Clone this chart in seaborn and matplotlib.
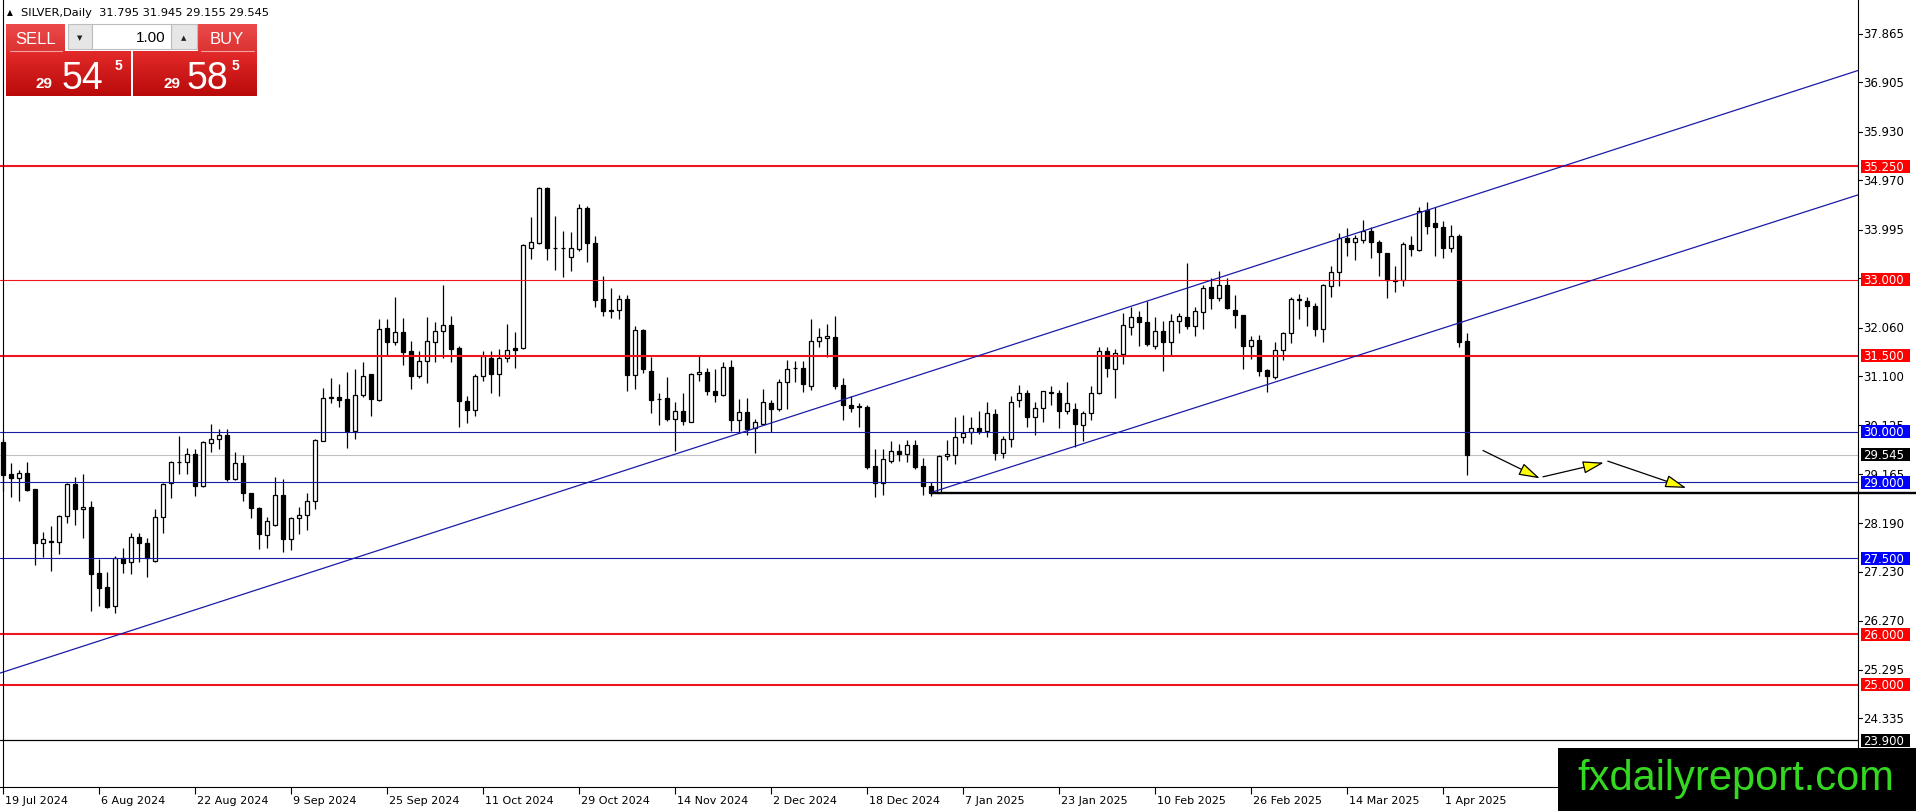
import numpy as np
import pandas as pd
import matplotlib
matplotlib.use("Agg")
import matplotlib.pyplot as plt
import matplotlib.transforms as mtransforms
from matplotlib.patches import Rectangle
from matplotlib.colors import LinearSegmentedColormap
import seaborn as sns

# ---------------- data ----------------
symbol = "SILVER"
timeframe = "Daily"
date_labels = ["19 Jul 2024", "6 Aug 2024", "22 Aug 2024", "9 Sep 2024", "25 Sep 2024",
               "11 Oct 2024", "29 Oct 2024", "14 Nov 2024", "2 Dec 2024", "18 Dec 2024",
               "7 Jan 2025", "23 Jan 2025", "10 Feb 2025", "26 Feb 2025", "14 Mar 2025",
               "1 Apr 2025"]
date_label_bars = [0, 12, 24, 36, 48, 60, 72, 84, 96, 108, 120, 132, 144, 156, 168, 180]

opens = [29.80, 29.17, 29.08, 29.19, 28.86, 27.80, 27.84, 27.82, 28.33, 28.96,
         28.47, 28.51, 27.21, 26.93, 26.55, 27.50, 27.42, 27.92, 27.80, 27.45,
         28.32, 28.99, 29.40, 29.40, 29.56, 28.93, 29.78, 29.86, 29.94, 29.07,
         29.38, 28.79, 28.50, 27.97, 28.16, 28.76, 27.88, 28.30, 28.35, 28.63,
         29.81, 30.67, 30.69, 30.65, 30.02, 30.73, 31.14, 30.63, 32.05, 31.77,
         31.98, 31.60, 31.11, 31.39, 31.77, 31.99, 32.12, 31.66, 30.61, 30.44,
         31.11, 31.46, 31.15, 31.46, 31.66, 31.65, 33.63, 33.73, 34.82, 33.64,
         33.63, 33.46, 33.61, 34.42, 33.73, 32.62, 32.40, 32.40, 32.62, 31.13,
         32.01, 31.20, 30.65, 30.66, 30.25, 30.41, 30.19, 31.14, 31.18, 30.81,
         30.73, 31.28, 30.24, 30.39, 30.08, 30.15, 30.57, 30.45, 30.98, 31.26,
         31.27, 30.90, 31.79, 31.85, 31.87, 30.92, 30.53, 30.50, 30.48, 29.32,
         28.99, 29.43, 29.63, 29.57, 29.73, 29.32, 28.93, 28.79, 29.52, 29.55,
         29.89, 30.00, 30.07, 30.02, 30.35, 29.58, 29.86, 30.63, 30.76, 30.29,
         30.47, 30.77, 30.76, 30.41, 30.45, 30.14, 30.37, 30.76, 31.59, 31.24,
         31.54, 32.08, 32.26, 32.16, 31.69, 31.99, 31.77, 32.18, 32.26, 32.10,
         32.36, 32.86, 32.64, 32.90, 32.41, 32.31, 31.70, 31.81, 31.22, 31.08,
         31.62, 31.95, 32.62, 32.59, 32.48, 32.03, 32.89, 33.16, 33.82, 33.75,
         33.80, 33.96, 33.76, 33.53, 32.99, 32.99, 33.69, 33.60, 34.39, 34.13,
         34.04, 33.63, 33.86, 31.795]
highs = [29.86, 29.38, 29.25, 29.41, 28.87, 28.01, 28.14, 28.36, 28.99, 29.10,
         29.17, 28.63, 27.49, 27.23, 27.55, 27.70, 27.99, 27.99, 27.90, 28.47,
         28.99, 29.42, 29.92, 29.68, 29.66, 29.82, 30.16, 30.06, 30.06, 29.61,
         29.54, 28.80, 28.52, 28.32, 29.11, 29.06, 28.31, 28.51, 28.80, 29.85,
         30.87, 31.06, 30.95, 31.18, 31.24, 31.37, 31.15, 32.23, 32.23, 32.66,
         32.24, 31.79, 31.60, 32.26, 32.16, 32.90, 32.29, 31.70, 30.71, 31.14,
         31.60, 31.60, 31.64, 32.13, 31.97, 33.71, 34.24, 34.83, 34.83, 34.27,
         33.97, 33.95, 34.50, 34.47, 33.86, 33.08, 32.84, 32.71, 32.70, 32.10,
         32.03, 31.48, 30.77, 31.08, 30.59, 30.76, 31.16, 31.49, 31.27, 31.25,
         31.37, 31.42, 30.65, 30.66, 30.25, 30.85, 30.63, 31.04, 31.41, 31.39,
         31.39, 32.23, 32.05, 32.13, 32.29, 31.06, 30.71, 30.57, 30.52, 29.66,
         29.65, 29.82, 29.76, 29.84, 29.84, 29.48, 29.01, 29.55, 29.84, 30.29,
         30.33, 30.29, 30.42, 30.59, 30.45, 29.92, 30.70, 30.93, 30.83, 30.58,
         30.81, 30.91, 30.83, 30.98, 30.56, 30.42, 30.91, 31.67, 31.67, 31.64,
         32.34, 32.47, 32.38, 32.59, 32.26, 32.18, 32.33, 32.34, 33.33, 32.46,
         32.91, 33.04, 33.17, 33.03, 32.70, 32.31, 31.90, 31.91, 31.24, 31.78,
         31.98, 32.66, 32.72, 32.66, 32.55, 32.92, 33.27, 33.92, 34.02, 33.89,
         34.19, 34.04, 33.80, 33.53, 33.27, 33.75, 33.86, 34.44, 34.55, 34.44,
         34.16, 34.09, 33.91, 31.945]
lows = [28.83, 28.71, 28.63, 28.83, 27.37, 27.53, 27.25, 27.59, 28.20, 28.16,
        27.90, 26.45, 26.55, 26.52, 26.42, 27.20, 27.18, 27.42, 27.14, 27.42,
        27.99, 28.69, 29.16, 29.17, 28.74, 28.90, 29.61, 29.66, 29.03, 29.05,
        28.63, 28.30, 27.68, 27.71, 28.13, 27.63, 27.66, 27.98, 28.05, 28.47,
        29.81, 30.56, 30.48, 29.67, 29.86, 30.68, 30.32, 30.60, 31.50, 31.72,
        31.32, 30.84, 31.06, 30.96, 31.37, 31.46, 31.37, 30.09, 30.17, 30.32,
        31.01, 30.76, 30.71, 31.37, 31.27, 31.64, 33.42, 33.72, 33.40, 33.20,
        33.05, 33.18, 33.58, 33.36, 32.46, 32.29, 32.25, 32.22, 30.80, 30.85,
        31.16, 30.38, 30.14, 30.22, 29.63, 30.14, 30.19, 31.00, 30.73, 30.59,
        30.71, 30.02, 29.98, 29.94, 29.59, 30.15, 29.99, 30.42, 30.45, 30.98,
        30.79, 30.83, 31.67, 31.47, 30.85, 30.24, 30.39, 30.10, 29.26, 28.71,
        28.76, 29.38, 29.43, 29.40, 29.26, 28.76, 28.74, 28.79, 29.45, 29.36,
        29.78, 29.76, 29.96, 29.90, 29.45, 29.48, 29.69, 30.48, 30.09, 29.94,
        30.19, 30.52, 30.07, 30.35, 29.69, 29.82, 30.24, 30.75, 31.09, 30.66,
        31.33, 31.92, 31.70, 31.70, 31.64, 31.21, 31.52, 31.96, 32.03, 31.89,
        32.03, 32.43, 32.59, 32.43, 32.05, 31.24, 31.44, 31.11, 30.78, 31.04,
        31.42, 31.75, 32.23, 32.10, 31.90, 31.77, 32.66, 32.89, 33.48, 33.40,
        33.73, 33.43, 33.07, 32.64, 32.76, 32.89, 33.47, 33.57, 33.91, 33.47,
        33.43, 33.56, 31.67, 29.155]
closes = [29.15, 29.08, 29.19, 28.84, 27.80, 27.88, 27.82, 28.34, 28.96, 28.47,
          28.51, 27.18, 26.92, 26.54, 27.50, 27.40, 27.92, 27.80, 27.51, 28.32,
          28.96, 29.40, 29.41, 29.56, 28.93, 29.80, 29.86, 29.94, 29.07, 29.38,
          28.79, 28.50, 27.98, 28.23, 28.76, 27.88, 28.30, 28.35, 28.63, 29.83,
          30.66, 30.68, 30.63, 30.02, 30.73, 31.11, 30.65, 32.04, 31.77, 31.98,
          31.58, 31.11, 31.39, 31.79, 31.99, 32.12, 31.64, 30.61, 30.44, 31.11,
          31.49, 31.15, 31.46, 31.62, 31.62, 33.70, 33.75, 34.82, 33.63, 33.63,
          33.64, 33.63, 34.42, 33.73, 32.61, 32.39, 32.39, 32.62, 31.13, 32.01,
          31.25, 30.63, 30.64, 30.25, 30.41, 30.21, 31.14, 31.18, 30.81, 30.73,
          31.29, 30.24, 30.39, 30.06, 30.19, 30.58, 30.45, 30.98, 31.25, 31.27,
          30.94, 31.79, 31.87, 31.89, 30.91, 30.52, 30.47, 30.49, 29.31, 28.99,
          29.46, 29.63, 29.56, 29.73, 29.31, 28.92, 28.79, 29.52, 29.56, 29.89,
          29.97, 30.07, 30.02, 30.37, 29.58, 29.86, 30.59, 30.76, 30.29, 30.47,
          30.80, 30.78, 30.41, 30.56, 30.15, 30.37, 30.76, 31.59, 31.27, 31.55,
          32.11, 32.26, 32.16, 31.74, 31.99, 31.77, 32.18, 32.28, 32.10, 32.38,
          32.84, 32.64, 32.90, 32.44, 32.31, 31.70, 31.81, 31.21, 31.10, 31.62,
          31.95, 32.62, 32.61, 32.49, 32.03, 32.90, 33.16, 33.82, 33.76, 33.82,
          33.96, 33.75, 33.55, 32.99, 32.98, 33.71, 33.61, 34.36, 34.07, 34.04,
          33.63, 33.86, 31.78, 29.545]

red_levels_thick = [35.25, 31.50, 26.00, 25.00]
red_levels_thin = [33.00]
blue_levels = [30.00, 29.00, 27.50]
bid_price = 29.545
ask_price = 29.585
lowest_line = 23.900
support_level = 28.80
support_start_bar = 116
upper_trend_bars = [0, 180]
upper_trend_prices = [25.25, 34.48]
lower_trend_bars = [116, 182]
lower_trend_prices = [28.80, 32.15]
arrow_path_bars = [185.0, 192.1, 192.5, 200.1, 200.6, 210.4]
arrow_path_prices = [29.63, 29.08, 29.11, 29.39, 29.42, 28.89]
price_ticks = [37.865, 36.905, 35.930, 34.970, 33.995, 33.035, 32.060, 31.100,
               30.125, 29.165, 28.190, 27.230, 26.270, 25.295, 24.335]
lot_size = 1.00
watermark = "fxdailyreport.com"

# ---------------- style ----------------
sns.set_theme(style="white")
plt.rcParams['font.family'] = ['DejaVu Sans']

W, H = 1916, 812
AX_R, AX_B = 1858, 788
fig = plt.figure(figsize=(W / 100, H / 100), dpi=100, facecolor='white')
ax = fig.add_axes([0, (H - AX_B) / H, AX_R / W, AX_B / H])
ax.set_facecolor('white')
XMIN, XMAX = -0.375, 231.875
YMIN, YMAX = 22.98, 38.553
PPU = AX_B / (YMAX - YMIN)   # pixels per price unit

RED = '#f0141c'
BLUE_LINE = '#1a1aa8'

o = np.array(opens); h = np.array(highs); l = np.array(lows); c = np.array(closes)
x = np.arange(len(o))
up = c >= o

# wicks and bodies
ax.vlines(x, l, h, color='black', lw=0.9, zorder=2)
ax.bar(x, np.abs(c - o), bottom=np.minimum(o, c), width=0.56,
       color=np.where(up, 'white', 'black'), edgecolor='black', linewidth=0.9, zorder=2.2)

# level lines
ax.axhline(bid_price, color='#c0c0c0', lw=0.8, zorder=1.5)
for lv in red_levels_thick:
    ax.axhline(lv, color=RED, lw=1.5, zorder=3)
for lv in red_levels_thin:
    ax.axhline(lv, color=RED, lw=0.8, zorder=3)
for lv in blue_levels:
    ax.axhline(lv, color=BLUE_LINE, lw=0.8, zorder=3)
ax.axhline(lowest_line, color='black', lw=0.9, zorder=3)

# channel rays
def ray(bars, prices, start):
    slope = (prices[1] - prices[0]) / (bars[1] - bars[0])
    xs = [start, XMAX]
    ys = [prices[0] + slope * (xx - bars[0]) for xx in xs]
    return pd.DataFrame({'bar': xs, 'price': ys})

up_df = ray(upper_trend_bars, upper_trend_prices, XMIN)
lo_df = ray(lower_trend_bars, lower_trend_prices, lower_trend_bars[0])
sns.lineplot(data=up_df, x='bar', y='price', ax=ax, color=BLUE_LINE, lw=0.9,
             estimator=None, sort=False, legend=False, zorder=3)
sns.lineplot(data=lo_df, x='bar', y='price', ax=ax, color=BLUE_LINE, lw=0.9,
             estimator=None, sort=False, legend=False, zorder=3)

# support line (extends to the image edge)
ax.plot([support_start_bar, (W - 3) / 8], [support_level, support_level],
        color='black', lw=1.7, zorder=3.5, clip_on=False, solid_capstyle='butt')

# arrows
for k in range(0, len(arrow_path_bars), 2):
    ax.annotate('', xy=(arrow_path_bars[k + 1], arrow_path_prices[k + 1]),
                xytext=(arrow_path_bars[k], arrow_path_prices[k]),
                arrowprops=dict(arrowstyle='-|>,head_length=1.0,head_width=0.3',
                                fc='#ffff00', ec='black', lw=0.9,
                                shrinkA=0, shrinkB=0, mutation_scale=13),
                zorder=4)

# left border
ax.axvline(-0.04, color='black', lw=0.8, zorder=4)

ax.set_xlim(XMIN, XMAX)
ax.set_ylim(YMIN, YMAX)
ax.grid(False)
for s in ['left', 'top']:
    ax.spines[s].set_visible(False)
for s in ['right', 'bottom']:
    ax.spines[s].set_color('black')
    ax.spines[s].set_linewidth(0.8)
ax.set_yticks([])
ax.set_xticks(date_label_bars)
ax.tick_params(axis='x', direction='out', length=5, width=0.8, color='black',
               bottom=True, labelbottom=False)
ax.set_xlabel('')
ax.set_ylabel('')

# date labels
tx = mtransforms.blended_transform_factory(ax.transData, ax.transAxes)
for b, lab in zip(date_label_bars, date_labels):
    ax.text(b + 0.25, -13 / AX_B, lab, transform=tx, fontsize=8, ha='left',
            va='center', color='black', clip_on=False)

# right price scale
ty = mtransforms.blended_transform_factory(ax.transAxes, ax.transData)
def xr(px):
    return 1 + px / AX_R

for p in price_ticks:
    ax.plot([1, xr(4)], [p, p], transform=ty, color='black', lw=0.8, clip_on=False)
    ax.text(xr(5), p, f"{p:.3f}", transform=ty, fontsize=8.5, ha='left', va='center',
            color='black', clip_on=False, zorder=9)

boxed = ([(v, '#ff0000') for v in red_levels_thick + red_levels_thin] +
         [(v, '#0000ff') for v in blue_levels] +
         [(bid_price, '#000000'), (lowest_line, '#000000')])
for p, col in boxed:
    ax.add_patch(Rectangle((xr(3), p - 6.5 / PPU), 49 / AX_R, 13 / PPU, transform=ty,
                           fc=col, ec='none', clip_on=False, zorder=10))
    ax.text(xr(5), p, f"{p:.3f}", transform=ty, fontsize=8.5, ha='left', va='center',
            color='white', clip_on=False, zorder=11)

# ---------------- overlay (header panel, watermark) ----------------
ov = fig.add_axes([0, 0, 1, 1], zorder=20)
ov.set_facecolor('none')
ov.axis('off')

def grad(x0, x1, y0, y1, ctop, cbot):
    cmap = LinearSegmentedColormap.from_list('g', [ctop, cbot])
    arr = np.linspace(0, 1, 64).reshape(-1, 1)
    ov.imshow(arr, cmap=cmap, extent=[x0, x1, y1, y0], aspect='auto',
              interpolation='bilinear', zorder=1)

ov.text(7, 13, "▲", fontsize=5.5, ha='left', va='center', color='black')
ov.text(21, 13, f"{symbol},{timeframe}  {o[-1]:.3f} {h[-1]:.3f} {l[-1]:.3f} {c[-1]:.3f}",
        fontsize=8.2, ha='left', va='center', color='black')

# buttons
grad(6, 65, 25, 52, '#ec4b4b', '#dc3232')
grad(198, 257, 25, 52, '#ec4b4b', '#dc3232')
ov.plot([10, 62], [51.5, 51.5], color='#f4a0a0', lw=0.8, zorder=2)
ov.plot([201, 254], [51.5, 51.5], color='#f4a0a0', lw=0.8, zorder=2)
ov.add_patch(Rectangle((68, 25), 24, 25, fc='#e6e6e6', ec='#bdbdbd', lw=0.8, zorder=2))
ov.add_patch(Rectangle((171, 25), 26, 25, fc='#e6e6e6', ec='#bdbdbd', lw=0.8, zorder=2))
ov.add_patch(Rectangle((92, 25), 79, 25, fc='white', ec='#bdbdbd', lw=0.8, zorder=2))
ov.text(80, 38, "▼", fontsize=5, ha='center', va='center', color='#222222', zorder=3)
ov.text(184, 38, "▲", fontsize=5, ha='center', va='center', color='#222222', zorder=3)
ov.text(166, 38, f"{lot_size:.2f}", fontsize=11, ha='right', va='center',
        family=['Liberation Sans', 'DejaVu Sans'], color='black', zorder=3)
ov.text(36, 39, "SELL", fontsize=12, ha='center', va='center',
        family=['Liberation Sans', 'DejaVu Sans'], color='white', zorder=3)
ov.text(227, 39, "BUY", fontsize=12, ha='center', va='center',
        family=['Liberation Sans', 'DejaVu Sans'], color='white', zorder=3)

# price panels
grad(6, 131, 52, 97, '#e42a2a', '#b80a0a')
grad(133, 257, 52, 97, '#e42a2a', '#b80a0a')

def price_panel(price, x_small, x_big, x_sup):
    s = f"{price:.3f}"
    big, rest = s.split('.')
    ov.text(x_small, 88, big, fontsize=11, fontweight='bold', ha='left', va='baseline',
            family=['Liberation Sans', 'DejaVu Sans'], color='white', zorder=3)
    ov.text(x_big, 89, rest[:2], fontsize=27, ha='left', va='baseline',
            family=['Liberation Sans', 'DejaVu Sans'], color='white', zorder=3)
    ov.text(x_sup, 70, rest[2], fontsize=10, fontweight='bold', ha='left', va='baseline',
            family=['Liberation Sans', 'DejaVu Sans'], color='white', zorder=3)

price_panel(bid_price, 36, 62, 115)
price_panel(ask_price, 164, 187, 232)

# watermark
ov.add_patch(Rectangle((1558, 749), W - 1558, H - 749, fc='black', ec='none', zorder=5))
ov.text(1736, 790, watermark, fontsize=30, ha='center', va='baseline',
        family=['Liberation Sans', 'DejaVu Sans'], color='#35d820', zorder=6)

ov.set_xlim(0, W)
ov.set_ylim(H, 0)

fig.savefig("out.png", dpi=100, facecolor='white')
